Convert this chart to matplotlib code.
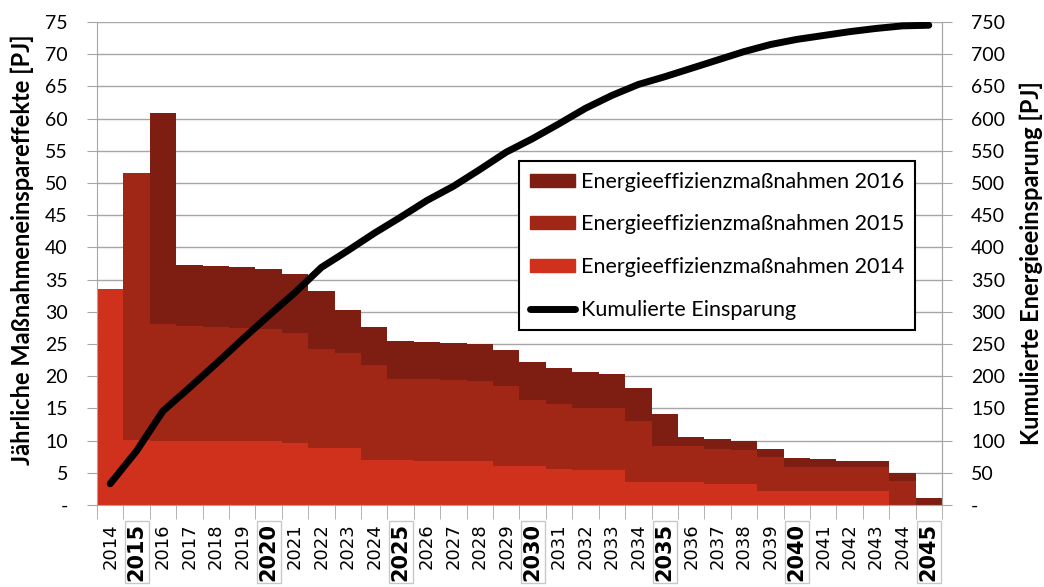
import numpy as np
import matplotlib.pyplot as plt
from matplotlib.patches import Patch
from matplotlib.lines import Line2D

plt.rcParams['font.family'] = ['Lato', 'DejaVu Sans']

# Data
years = list(range(2014, 2046))
massnahmen_2014 = [33.5, 10.1, 10.0, 9.9, 9.9, 9.9, 9.9, 9.6, 8.9, 8.9, 7.0, 7.0, 6.9, 6.9, 6.9, 6.0,
                   6.0, 5.6, 5.5, 5.5, 3.5, 3.5, 3.5, 3.3, 3.3, 2.1, 2.1, 2.1, 2.1, 2.1, 0.0, 0.0]
massnahmen_2015 = [0.0, 41.5, 18.1, 17.9, 17.8, 17.6, 17.5, 17.1, 15.4, 14.7, 14.8, 12.5, 12.6, 12.5, 12.4, 12.5,
                   10.3, 10.1, 9.5, 9.5, 9.5, 5.6, 5.6, 5.4, 5.2, 5.3, 3.8, 3.8, 3.8, 3.8, 3.7, 0.0]
massnahmen_2016 = [0.0, 0.0, 32.7, 9.5, 9.4, 9.4, 9.2, 9.2, 9.0, 6.7, 5.9, 6.0, 5.8, 5.8, 5.7, 5.6,
                   5.9, 5.6, 5.6, 5.3, 5.2, 5.1, 1.4, 1.6, 1.5, 1.3, 1.4, 1.2, 1.0, 1.0, 1.2, 1.1]
kumuliert = [33, 84, 146, 182, 219, 257, 294, 330, 369, 395, 422, 447, 473, 495, 521, 548,
             569, 592, 616, 636, 653, 665, 678, 691, 704, 715, 723, 729, 735, 740, 744, 745]

c14, c15, c16 = '#cf311c', '#a02616', '#7e1e12'
grid_c = '#a6a6a6'

x = np.arange(len(years))
b14 = np.array(massnahmen_2014)
b15 = np.array(massnahmen_2015)
b16 = np.array(massnahmen_2016)

fig = plt.figure(figsize=(10.44, 5.87), dpi=100)
ax = fig.add_axes([0.0929, 0.1397, 0.8094, 0.8228])

ax.bar(x, b14, width=1.0, color=c14, linewidth=0, zorder=2)
ax.bar(x, b15, width=1.0, bottom=b14, color=c15, linewidth=0, zorder=2)
ax.bar(x, b16, width=1.0, bottom=b14 + b15, color=c16, linewidth=0, zorder=2)

ax.set_xlim(-0.5, len(years) - 0.5)
ax.set_ylim(0, 75)
yt = np.arange(0, 80, 5)
ax.set_yticks(yt)
ax.set_yticklabels(['-'] + [str(v) for v in yt[1:]], fontsize=14)
ax.yaxis.grid(True, color=grid_c, linewidth=1, zorder=0)
ax.set_axisbelow(True)
ax.tick_params(axis='y', length=7, color=grid_c, pad=14)

# year labels centred under bars, tick marks between bars
ax.set_xticks(x)
ax.set_xticks(np.arange(-0.5, len(years), 1.0), minor=True)
ax.set_xticklabels([str(y) for y in years], rotation=90, va='top', ha='center',
                   family='DejaVu Sans', fontsize=13)
ax.tick_params(axis='x', which='major', direction='in', length=4, color=grid_c, pad=13)
ax.tick_params(axis='x', which='minor', direction='out', length=10, color=grid_c)
for lab, y in zip(ax.get_xticklabels(), years):
    if y % 5 == 0:
        lab.set_fontweight('bold')
        lab.set_fontsize(15)
        lab.set_bbox(dict(facecolor='white', edgecolor='#c8c8c8', linewidth=1, pad=1.5))

ax.spines['top'].set_visible(False)
for s in ['left', 'right', 'bottom']:
    ax.spines[s].set_color(grid_c)

ax.set_ylabel('Jährliche Maßnahmeneinspareffekte [PJ]', fontsize=17, fontweight='bold')
ax.yaxis.set_label_coords(-0.074, 0.528)

ax2 = ax.twinx()
ax2.plot(x, kumuliert, color='black', linewidth=5, solid_capstyle='round', zorder=5)
ax2.set_ylim(0, 750)
yt2 = np.arange(0, 800, 50)
ax2.set_yticks(yt2)
ax2.set_yticklabels(['-'] + [str(v) for v in yt2[1:]], fontsize=14)
ax2.tick_params(axis='y', length=7, color=grid_c, pad=14)
for s in ['top', 'left', 'bottom']:
    ax2.spines[s].set_visible(False)
ax2.spines['right'].set_color(grid_c)
ax2.set_ylabel('Kumulierte Energieeinsparung [PJ]', fontsize=17, fontweight='bold', labelpad=10)

handles = [Patch(color=c16), Patch(color=c15), Patch(color=c14),
           Line2D([0], [0], color='black', linewidth=5, solid_capstyle='round')]
labels = ['Energieeffizienzmaßnahmen 2016', 'Energieeffizienzmaßnahmen 2015',
          'Energieeffizienzmaßnahmen 2014', 'Kumulierte Einsparung']
leg = ax2.legend(handles, labels, loc='upper left', bbox_to_anchor=(519 / 1044, 1 - 161 / 587),
                 bbox_transform=fig.transFigure, fontsize=15.5, frameon=True, fancybox=False,
                 handlelength=2.1, handleheight=0.55, handletextpad=0.3, labelspacing=1.05,
                 borderpad=0.5, borderaxespad=0)
leg.get_frame().set_edgecolor('black')
leg.get_frame().set_linewidth(1.5)
leg.get_frame().set_alpha(1)

fig.savefig('out.png', dpi=100)
